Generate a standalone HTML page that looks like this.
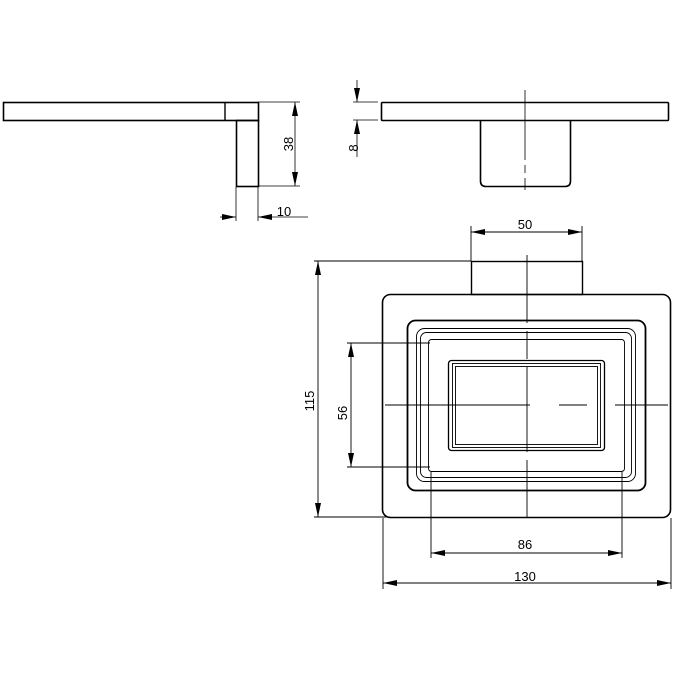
<!DOCTYPE html>
<html><head><meta charset="utf-8"><style>html,body{margin:0;padding:0;background:#fff}svg{display:block}</style></head>
<body>
<svg width="700" height="700" viewBox="0 0 700 700" xmlns="http://www.w3.org/2000/svg" font-family="Liberation Sans, sans-serif" font-size="13" fill="none">
<defs>
<marker id="a" viewBox="0 0 14 6" refX="14" refY="3" markerWidth="14" markerHeight="6" markerUnits="userSpaceOnUse" orient="auto-start-reverse"><path d="M0,0 L14,3 L0,6 Z" fill="#000"/></marker>
</defs>
<g stroke="#000">
<rect x="3.5" y="102.5" width="255" height="18" stroke-width="1.6"/>
<line x1="225" y1="102" x2="225" y2="120" stroke-width="1.4"/>
<rect x="236.5" y="120.5" width="22" height="66" stroke-width="1.6"/>
<g stroke-width="0.8">
<line x1="258" y1="102" x2="300" y2="102"/>
<line x1="258" y1="186" x2="300" y2="186"/>
<line x1="295" y1="102" x2="295" y2="186" marker-start="url(#a)" marker-end="url(#a)"/>
<line x1="236" y1="187" x2="236" y2="221"/>
<line x1="258" y1="187" x2="258" y2="221"/>
<line x1="220" y1="217" x2="236" y2="217" marker-end="url(#a)"/>
<line x1="308" y1="217" x2="258" y2="217" marker-end="url(#a)"/>
</g>
<rect x="381.5" y="102.5" width="287" height="18" rx="1" stroke-width="1.6"/>
<path d="M480.5,120.5 V181 Q480.5,186.5 486,186.5 H565 Q570.5,186.5 570.5,181 V120.5" stroke-width="1.6"/>
<line x1="525" y1="90" x2="525" y2="190" stroke-width="0.8" stroke-dasharray="70,5,8,5"/>
<g stroke-width="0.8">
<line x1="353" y1="102" x2="378" y2="102"/>
<line x1="353" y1="120" x2="378" y2="120"/>
<line x1="357" y1="80" x2="357" y2="102" marker-end="url(#a)"/>
<line x1="357" y1="157" x2="357" y2="120" marker-end="url(#a)"/>
</g>
<rect x="471.5" y="261.5" width="111" height="33" stroke-width="1.4"/>
<rect x="382.5" y="294.5" width="288" height="223" rx="8" stroke-width="1.6"/>
<rect x="407.5" y="320.5" width="238" height="170" rx="8" stroke-width="1.8"/>
<rect x="416.5" y="328.5" width="219" height="153" rx="8" stroke-width="0.9"/>
<rect x="420.5" y="332.5" width="211" height="145" rx="6" stroke-width="0.9"/>
<rect x="428.5" y="339.5" width="196" height="132" rx="3" stroke-width="0.9"/>
<rect x="448.5" y="360.5" width="156" height="90" rx="3" stroke-width="1.3"/>
<rect x="452.5" y="363.5" width="148" height="84" stroke-width="0.9"/>
<rect x="455.5" y="366.5" width="142" height="78" stroke-width="0.9"/>
<g stroke-width="0.9">
<line x1="527" y1="255" x2="527" y2="517" stroke-dasharray="68,8,28,8,85,8,70"/>
<line x1="385" y1="405" x2="530" y2="405"/>
<line x1="559" y1="405" x2="587" y2="405"/>
<line x1="615" y1="405" x2="668" y2="405"/>
<line x1="471" y1="226" x2="471" y2="261"/>
<line x1="582" y1="226" x2="582" y2="261"/>
<line x1="471" y1="232" x2="582" y2="232" marker-start="url(#a)" marker-end="url(#a)"/>
<line x1="314" y1="261" x2="471" y2="261"/>
<line x1="314" y1="517" x2="390" y2="517"/>
<line x1="318" y1="261" x2="318" y2="517" marker-start="url(#a)" marker-end="url(#a)"/>
<line x1="347" y1="343" x2="430" y2="343"/>
<line x1="347" y1="467" x2="430" y2="467"/>
<line x1="351" y1="343" x2="351" y2="467" marker-start="url(#a)" marker-end="url(#a)"/>
<line x1="431" y1="472" x2="431" y2="558"/>
<line x1="622" y1="472" x2="622" y2="558"/>
<line x1="431" y1="553" x2="622" y2="553" marker-start="url(#a)" marker-end="url(#a)"/>
<line x1="383" y1="518" x2="383" y2="589"/>
<line x1="671" y1="518" x2="671" y2="589"/>
<line x1="383" y1="583" x2="671" y2="583" marker-start="url(#a)" marker-end="url(#a)"/>
</g>
</g>
<g fill="#000" stroke="none">
<text x="289" y="148" text-anchor="middle" transform="rotate(-90 289 144)">38</text>
<text x="284" y="216" text-anchor="middle">10</text>
<text x="354" y="152" text-anchor="middle" transform="rotate(-90 354 148)">8</text>
<text x="525" y="229" text-anchor="middle">50</text>
<text x="310" y="405" text-anchor="middle" transform="rotate(-90 310 401)">115</text>
<text x="343" y="417" text-anchor="middle" transform="rotate(-90 343 413)">56</text>
<text x="525" y="549" text-anchor="middle">86</text>
<text x="525" y="581" text-anchor="middle">130</text>
</g>
</svg>
</body></html>
